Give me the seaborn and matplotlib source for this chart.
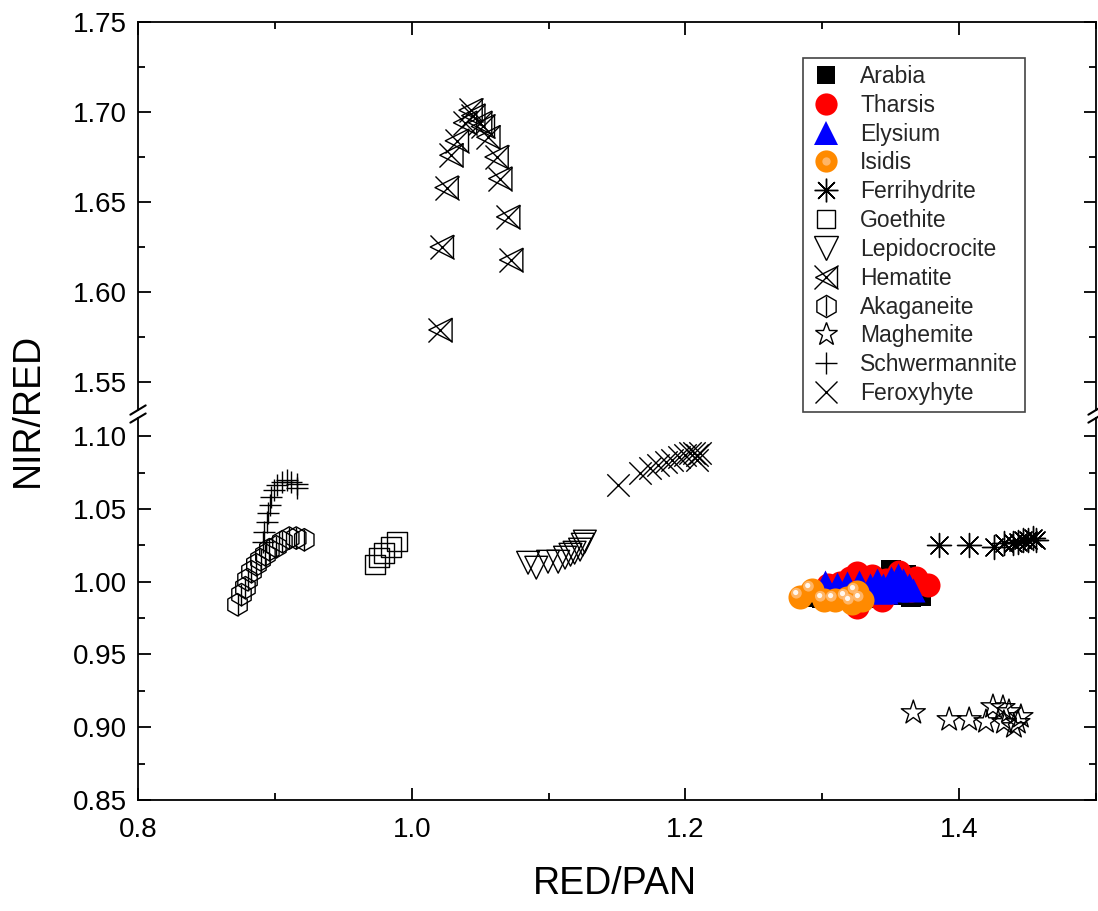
import numpy as np
import pandas as pd
import seaborn as sns
import matplotlib
matplotlib.use("Agg")
import matplotlib.pyplot as plt
from matplotlib.lines import Line2D
from matplotlib.legend_handler import HandlerTuple
from matplotlib.ticker import MultipleLocator, FormatStrFormatter
from matplotlib.transforms import offset_copy

sns.set_theme(style="ticks")
plt.rcParams["font.family"] = ["Liberation Sans", "DejaVu Sans"]

# ---- Mars regions ----
arabia_x = [1.2895, 1.2996, 1.3105, 1.3215, 1.3324, 1.3433, 1.3542, 1.3651, 1.3724,
            1.3505, 1.3360, 1.3615, 1.3469, 1.3178]
arabia_y = [0.9897, 0.9890, 0.9876, 0.9876, 0.9890, 0.9897, 0.9911, 0.9897, 0.9904,
            1.0082, 1.0014, 1.0048, 0.9959, 0.9979]

tharsis_x = [1.3040, 1.3127, 1.3200, 1.3251, 1.3360, 1.3469, 1.3564, 1.3687, 1.3775,
             1.3251, 1.3433, 1.3324, 1.3651]
tharsis_y = [0.9980, 0.9993, 1.0027, 1.0062, 1.0041, 1.0014, 1.0069, 1.0027, 0.9979,
             0.9828, 0.9876, 0.9945, 0.9945]

elysium_x = [1.3018, 1.3105, 1.3178, 1.3265, 1.3345, 1.3396, 1.3447, 1.3505, 1.3556,
             1.3593, 1.3636, 1.3665, 1.3469, 1.3542, 1.3418]
elysium_y = [1.0000, 0.9986, 0.9993, 1.0000, 0.9979, 1.0014, 0.9979, 1.0027, 1.0048,
             1.0014, 0.9979, 0.9945, 0.9931, 0.9945, 0.9931]

isidis_x = [1.2836, 1.2924, 1.3011, 1.3091, 1.3178, 1.3251, 1.3287, 1.3215]
isidis_y = [0.9897, 0.9945, 0.9876, 0.9876, 0.9890, 0.9931, 0.9876, 0.9856]

# ---- Iron oxide minerals ----
ferrihydrite_x = [1.3855, 1.4073, 1.4255, 1.4327, 1.4393, 1.4430, 1.4465, 1.4502, 1.4538, 1.4560]
ferrihydrite_y = [1.0254, 1.0254, 1.0240, 1.0268, 1.0268, 1.0275, 1.0288, 1.0288, 1.0302, 1.0288]

goethite_x = [0.9731, 0.9760, 0.9796, 0.9847, 0.9891]
goethite_y = [1.0117, 1.0165, 1.0199, 1.0240, 1.0275]

lepidocrocite_x = [1.0850, 1.0910, 1.0996, 1.1070, 1.1120, 1.1160, 1.1190, 1.1230, 1.1250, 1.1265]
lepidocrocite_y = [1.0130, 1.0096, 1.0137, 1.0137, 1.0165, 1.0185, 1.0199, 1.0220, 1.0254, 1.0275]

hematite_x = [1.0210, 1.0220, 1.0255, 1.0290, 1.0330, 1.0390, 1.0430, 1.0450, 1.0500,
              1.0520, 1.0560, 1.0620, 1.0647, 1.0705, 1.0727]
hematite_y = [1.5789, 1.6250, 1.6580, 1.6760, 1.6840, 1.6940, 1.7010, 1.6980, 1.6940,
              1.6920, 1.6860, 1.6750, 1.6630, 1.6417, 1.6178]

akaganeite_x = [0.8727, 0.8756, 0.8785, 0.8800, 0.8829, 0.8865, 0.8895, 0.8931, 0.8960,
                0.9011, 0.9055, 0.9105, 0.9156, 0.9215]
akaganeite_y = [0.9842, 0.9911, 0.9959, 1.0014, 1.0069, 1.0117, 1.0151, 1.0185, 1.0220,
                1.0240, 1.0275, 1.0300, 1.0300, 1.0288]

maghemite_x = [1.3665, 1.3927, 1.4073, 1.4196, 1.4247, 1.4320, 1.4364, 1.4327, 1.4429, 1.4451, 1.4400]
maghemite_y = [0.9100, 0.9052, 0.9052, 0.9038, 0.9141, 0.9135, 0.9107, 0.9032, 0.9032, 0.9073, 0.9004]

schwertmannite_x = [0.8916, 0.8924, 0.8945, 0.8953, 0.8967, 0.8975, 0.8996, 0.9018, 0.9055,
                    0.9090, 0.9120, 0.9164, 0.9160]
schwertmannite_y = [1.0275, 1.0343, 1.0412, 1.0474, 1.0529, 1.0584, 1.0632, 1.0666, 1.0687,
                    1.0700, 1.0687, 1.0673, 1.0645]

feroxyhyte_x = [1.1505, 1.1665, 1.1738, 1.1796, 1.1855, 1.1905, 1.1956, 1.2000, 1.2036,
                1.2065, 1.2087, 1.2109, 1.2087]
feroxyhyte_y = [1.0666, 1.0749, 1.0783, 1.0804, 1.0824, 1.0838, 1.0859, 1.0872, 1.0886,
                1.0886, 1.0872, 1.0886, 1.0838]

x_lim = (0.8, 1.5)
y_lim_low = (0.85, 1.1124)
y_lim_high = (1.5344, 1.75)

ORANGE = "#FF8A00"
SHINE = "#FFC080"
LW = 1.0

fig = plt.figure(figsize=(10.98, 9.11), dpi=100)
ax_lo = fig.add_axes([0.1257, 0.1218, 0.8725, 0.4193])
ax_hi = fig.add_axes([0.1257, 0.5499, 0.8725, 0.4259])


def hollow(ax, x, y, marker, s):
    sns.scatterplot(x=x, y=y, ax=ax, marker=marker, s=s, color="black",
                    facecolor="none", edgecolor="black", linewidth=LW, legend=False)


def lines(ax, x, y, marker, s):
    sns.scatterplot(x=x, y=y, ax=ax, marker=marker, s=s, color="black",
                    linewidth=LW, legend=False)


# Mars regions
sns.scatterplot(x=arabia_x, y=arabia_y, ax=ax_lo, marker="s", s=190, color="black",
                edgecolor="black", linewidth=0, legend=False)
sns.scatterplot(x=tharsis_x, y=tharsis_y, ax=ax_lo, marker="o", s=300, color="red",
                edgecolor="red", linewidth=0, legend=False)
sns.scatterplot(x=elysium_x, y=elysium_y, ax=ax_lo, marker="^", s=300, color="blue",
                edgecolor="blue", linewidth=0, legend=False)
sns.scatterplot(x=isidis_x, y=isidis_y, ax=ax_lo, marker="o", s=300, color=ORANGE,
                edgecolor=ORANGE, linewidth=0, legend=False)
shine = offset_copy(ax_lo.transData, fig=fig, x=-2.5, y=2.5, units="points")
sns.scatterplot(x=isidis_x, y=isidis_y, ax=ax_lo, marker="o", s=60, color=SHINE,
                edgecolor="none", linewidth=0, alpha=0.8, transform=shine, legend=False)
shine2 = offset_copy(ax_lo.transData, fig=fig, x=-3, y=3, units="points")
sns.scatterplot(x=isidis_x, y=isidis_y, ax=ax_lo, marker="o", s=14, color="white",
                edgecolor="none", linewidth=0, alpha=0.9, transform=shine2, legend=False)

# Minerals
lines(ax_lo, ferrihydrite_x, ferrihydrite_y, (8, 2, 0), 300)
hollow(ax_lo, goethite_x, goethite_y, "s", 200)
hollow(ax_lo, lepidocrocite_x, lepidocrocite_y, "v", 270)
hollow(ax_hi, hematite_x, hematite_y, "<", 280)
lines(ax_hi, hematite_x, hematite_y, "x", 300)
hollow(ax_lo, akaganeite_x, akaganeite_y, "h", 260)
lines(ax_lo, akaganeite_x, akaganeite_y, "|", 240)
hollow(ax_lo, maghemite_x, maghemite_y, "*", 330)
lines(ax_lo, schwertmannite_x, schwertmannite_y, "+", 260)
lines(ax_lo, feroxyhyte_x, feroxyhyte_y, "x", 260)

# Axes styling
for ax in (ax_lo, ax_hi):
    ax.set_xlim(*x_lim)
    ax.xaxis.set_major_locator(MultipleLocator(0.2))
    ax.xaxis.set_minor_locator(MultipleLocator(0.1))
    ax.yaxis.set_major_locator(MultipleLocator(0.05))
    ax.yaxis.set_minor_locator(MultipleLocator(0.025))
    ax.yaxis.set_major_formatter(FormatStrFormatter("%.2f"))
    ax.xaxis.set_major_formatter(FormatStrFormatter("%.1f"))
    for sp in ax.spines.values():
        sp.set_color("black")
        sp.set_linewidth(1.3)
    ax.tick_params(which="major", direction="in", length=9, width=1.3, colors="black",
                   labelsize=20, pad=8)
    ax.tick_params(which="minor", direction="in", length=5, width=1.3, colors="black")
    ax.set_xlabel("")
    ax.set_ylabel("")
    ax.set_facecolor("white")

ax_lo.set_ylim(*y_lim_low)
ax_hi.set_ylim(*y_lim_high)
ax_lo.spines["top"].set_visible(False)
ax_hi.spines["bottom"].set_visible(False)
ax_lo.tick_params(which="both", top=False, right=True, left=True, bottom=True)
ax_lo.tick_params(axis="x", which="major", pad=12)
ax_hi.tick_params(which="both", top=True, bottom=False, labelbottom=False, right=True, left=True)

# Break marks on the left and right spines
d_x, d_y = 0.008, 0.012
for xs in (0.0, 1.0):
    ax_hi.plot([xs - d_x, xs + d_x], [-d_y, d_y], transform=ax_hi.transAxes,
               color="black", lw=1.5, clip_on=False)
    ax_lo.plot([xs - d_x, xs + d_x], [1 - d_y, 1 + d_y], transform=ax_lo.transAxes,
               color="black", lw=1.5, clip_on=False)

fig.text(28 / 1098, 1 - 410 / 911, "NIR/RED", rotation=90, fontsize=27,
         ha="center", va="center", color="black")
fig.text(615 / 1098, 1 - 884 / 911, "RED/PAN", fontsize=27,
         ha="center", va="center", color="black")

# Legend
def mk(marker, ms, fc="none", ec="black", mew=LW, alpha=1.0):
    return Line2D([], [], linestyle="none", marker=marker, markersize=ms,
                  markerfacecolor=fc, markeredgecolor=ec, markeredgewidth=mew, alpha=alpha)

handles = [
    mk("s", 13, "black", "black", 0),
    mk("o", 16, "red", "red", 0),
    mk("^", 17, "blue", "blue", 0),
    (mk("o", 16, ORANGE, ORANGE, 0), mk("o", 6, SHINE, "none", 0, 0.8)),
    mk((8, 2, 0), 17, "black"),
    mk("s", 13),
    mk("v", 17),
    (mk("<", 16), mk("x", 17)),
    (mk("h", 16), mk("|", 15)),
    mk("*", 17),
    mk("+", 16),
    mk("x", 16),
]
labels = ["Arabia", "Tharsis", "Elysium", "Isidis", "Ferrihydrite", "Goethite",
          "Lepidocrocite", "Hematite", "Akaganeite", "Maghemite", "Schwermannite",
          "Feroxyhyte"]
leg = fig.legend(handles, labels, loc="upper left", bbox_to_anchor=(803 / 1098, 1 - 58 / 911),
                 bbox_transform=fig.transFigure, frameon=True, fancybox=False,
                 edgecolor="#444444", framealpha=1, fontsize=16.5, borderaxespad=0,
                 borderpad=0.3, labelspacing=0.255, handlelength=1.4, handletextpad=0.8,
                 handler_map={tuple: HandlerTuple(ndivide=1, pad=0)})
leg.get_frame().set_linewidth(1.2)

fig.savefig("out.png", dpi=100, facecolor="white")
